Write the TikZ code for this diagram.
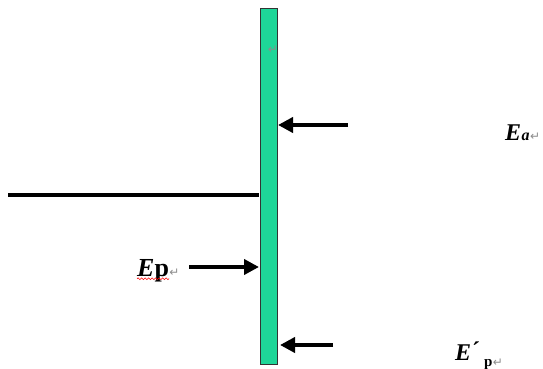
\documentclass[tikz,border=0pt]{standalone}
\usepackage{fontspec}
\setmainfont{Liberation Serif}
\newfontfamily\symfont{DejaVu Sans}
\usetikzlibrary{arrows.meta,decorations.pathmorphing}
\definecolor{wallgreen}{RGB}{30,214,152}
\definecolor{retgray}{RGB}{140,140,140}
\tikzset{
  force/.style={line width=4pt,-{Triangle[length=15pt,width=15pt]}},
  lbl/.style={inner sep=0pt,font=\fontsize{24}{24}\selectfont\bfseries},
  ret/.style={inner sep=0pt,text=retgray,font=\symfont\fontsize{12}{12}\selectfont},
}
\begin{document}
\begin{tikzpicture}[x=1pt,y=-1pt]
\useasboundingbox (0,0) rectangle (543,369);
% wall
\node[draw=black!80,line width=1pt,fill=wallgreen,minimum width=17pt,minimum height=356pt,inner sep=0pt,anchor=north west] (wall) at (259.5,8) {};
\node[ret] (r0) at (273,50) {↵};
% horizontal bar
\coordinate (hl) at (8,195);
\coordinate (hr) at (259,195);
\draw[line width=4pt] (hl) -- (hr);
% forces
\coordinate (a1) at (348,125);
\coordinate (a1e) at (278,125);
\draw[force] (a1) -- (a1e);
\coordinate (a2) at (189,267);
\coordinate (a2e) at (259,267);
\draw[force] (a2) -- (a2e);
\coordinate (a3) at (333,345);
\coordinate (a3e) at (280,345);
\draw[force] (a3) -- (a3e);
% labels
\node[lbl,anchor=base west] (ea) at (505,140) {\itshape E\kern0.5pt{\fontsize{16}{16}\selectfont a}};
\node[ret,anchor=base west] (r1) at (ea.base east) {↵};
\node[lbl,anchor=base west,font=\fontsize{26}{26}\selectfont\bfseries] (ep) at (137,276) {{\itshape E}p};
\node[ret,anchor=base west] (r2) at (ep.base east) {↵};
\draw[red,line width=0.6pt,decorate,decoration={snake,amplitude=0.9pt,segment length=3.5pt}] ([yshift=3pt]ep.south west) -- ([yshift=3pt]ep.south east);
\node[lbl,anchor=base west] (epp) at (455,360) {\itshape E\kern1pt\raisebox{2pt}{\normalfont\bfseries´}\kern4pt{\fontsize{15}{15}\selectfont\upshape\raisebox{-6pt}{p}}};
\node[ret,anchor=base west] (r3) at ([yshift=-6pt]epp.base east) {↵};
\end{tikzpicture}
\end{document}
